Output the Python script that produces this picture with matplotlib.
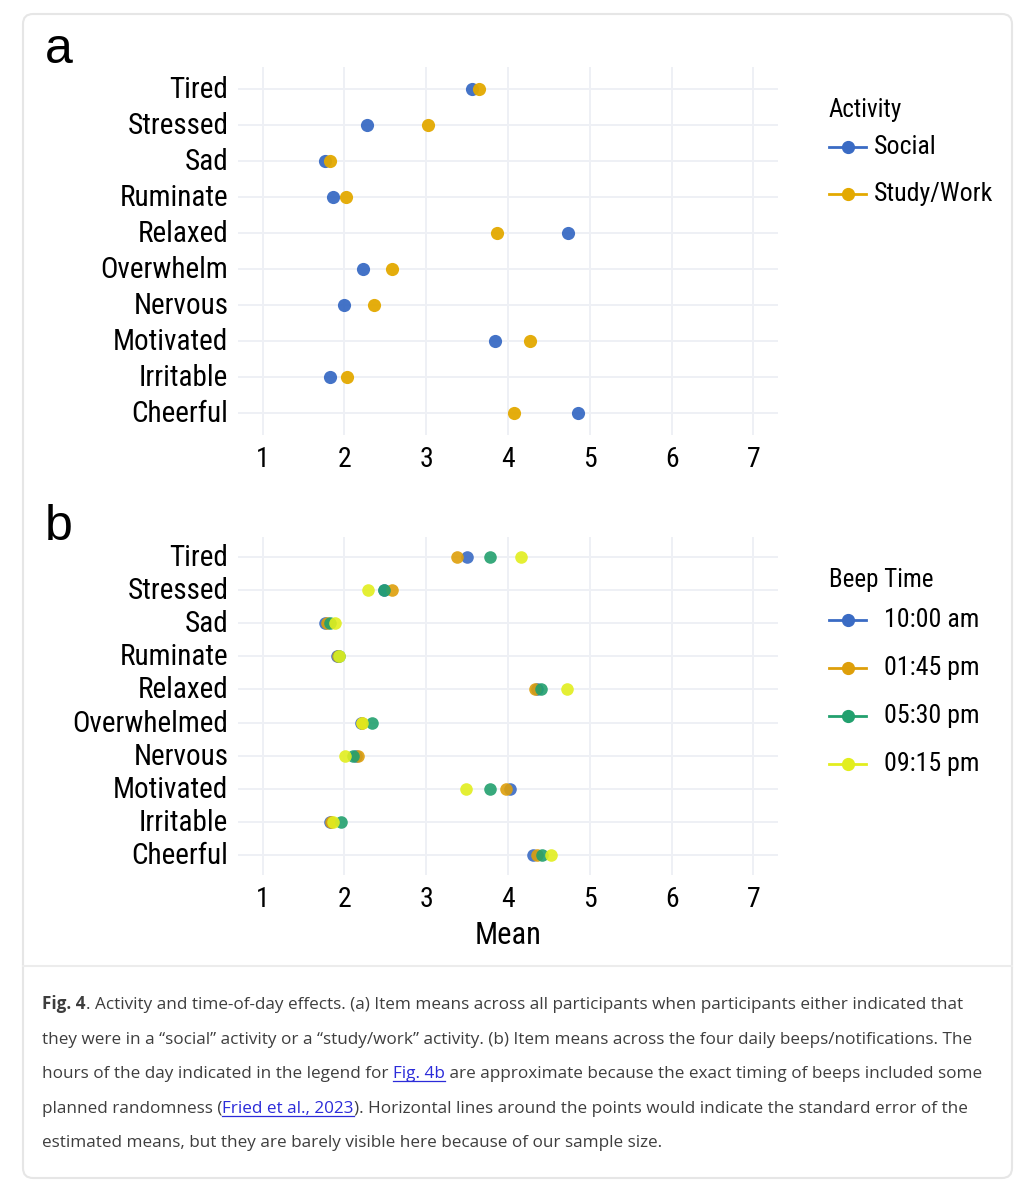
import matplotlib
matplotlib.use("Agg")
import matplotlib.pyplot as plt
import matplotlib.transforms as mtransforms
from matplotlib import font_manager
from matplotlib.lines import Line2D
from matplotlib.patches import FancyBboxPatch

# item labels, top to bottom
items_a = ["Tired", "Stressed", "Sad", "Ruminate", "Relaxed",
           "Overwhelm", "Nervous", "Motivated", "Irritable", "Cheerful"]
items_b = ["Tired", "Stressed", "Sad", "Ruminate", "Relaxed",
           "Overwhelmed", "Nervous", "Motivated", "Irritable", "Cheerful"]

# panel a: means by activity
social = [3.56, 2.28, 1.76, 1.86, 4.73, 2.23, 2.00, 3.84, 1.83, 4.85]
study_work = [3.65, 3.02, 1.82, 2.02, 3.86, 2.58, 2.36, 4.27, 2.03, 4.07]

# panel b: means by beep time
beep_1000 = [3.50, 2.48, 1.76, 1.91, 4.36, 2.20, 2.14, 4.03, 1.82, 4.31]
beep_1345 = [3.38, 2.58, 1.79, 1.92, 4.33, 2.21, 2.17, 3.98, 1.84, 4.36]
beep_1730 = [3.78, 2.49, 1.82, 1.93, 4.40, 2.34, 2.10, 3.78, 1.96, 4.41]
beep_2115 = [4.16, 2.29, 1.89, 1.94, 4.72, 2.22, 2.01, 3.49, 1.86, 4.53]

activity_labels = ["Social", "Study/Work"]
beep_labels = ["10:00 am", "01:45 pm", "05:30 pm", "09:15 pm"]
x_ticks = [1, 2, 3, 4, 5, 6, 7]

COL_BLUE = "#3A6BC4"
COL_GOLD = "#E3A900"
COL_ORANGE = "#DE9F0A"
COL_GREEN = "#22A06E"
COL_LIME = "#E2EE1E"
GRID = "#EEF0F5"

W, H = 1032, 1200
DPI = 100

# pick a condensed sans if one is installed
fonts = font_manager.fontManager.ttflist
names = {f.name for f in fonts}
if "Roboto Condensed" in names:
    COND = dict(family=["Roboto Condensed", "DejaVu Sans"])
elif "Liberation Sans Narrow" in names:
    COND = dict(family=["Liberation Sans Narrow", "DejaVu Sans"])
else:
    COND = dict(family=["DejaVu Sans"], stretch="condensed")
CAP_FONT = "Open Sans" if "Open Sans" in names else "DejaVu Sans"


def px_rect(x0, y0, x1, y1):
    """pixel box (top-left origin) -> figure fraction rect"""
    return [x0 / W, 1 - y1 / H, (x1 - x0) / W, (y1 - y0) / H]


def fx(x):
    return x / W


def fy(y):
    return 1 - y / H


def style_axes(fig, ax, labels):
    n = len(labels)
    ax.set_facecolor("none")
    ax.set_xlim(0.7, 7.3)
    ax.set_ylim(n - 1 + 0.6, -0.6)
    ax.set_yticks(range(n))
    ax.set_yticklabels(labels, fontsize=21, **COND)
    ax.set_xticks(x_ticks)
    ax.set_xticklabels([str(t) for t in x_ticks], fontsize=20, **COND)
    ax.tick_params(length=0)
    ax.tick_params(axis="y", pad=7)
    ax.tick_params(axis="x", pad=8)
    # nudge item labels up a little
    shift = mtransforms.ScaledTranslation(0, 2 / DPI, fig.dpi_scale_trans)
    for lab in ax.get_yticklabels():
        lab.set_transform(lab.get_transform() + shift)
    for s in ax.spines.values():
        s.set_visible(False)
    ax.grid(True, color=GRID, linewidth=1.4)
    ax.set_axisbelow(True)


def draw_legend(fig, title, labels, colors, title_y, item_ys, text_x):
    fig.text(fx(829), fy(title_y), title, fontsize=18, va="center", ha="left", **COND)
    for lab, col, y in zip(labels, colors, item_ys):
        fig.add_artist(Line2D([fx(829), fx(866)], [fy(y), fy(y)], transform=fig.transFigure,
                              color=col, linewidth=2))
        fig.add_artist(Line2D([fx(847.5)], [fy(y)], transform=fig.transFigure, color=col,
                              marker="o", markersize=8.5, linewidth=0))
        fig.text(fx(text_x), fy(y), lab, fontsize=18.6, va="center", ha="left", **COND)


fig = plt.figure(figsize=(W / DPI, H / DPI), dpi=DPI)
fig.patch.set_facecolor("white")

# card background
card = FancyBboxPatch((23 / DPI, (H - 1178) / DPI), (1012 - 23) / DPI, (1178 - 14) / DPI,
                      boxstyle="round,pad=0,rounding_size=0.1",
                      transform=fig.dpi_scale_trans, facecolor="white",
                      edgecolor="#E6E6E6", linewidth=1.5, zorder=-10)
fig.add_artist(card)
fig.add_artist(Line2D([fx(23), fx(1012)], [fy(966), fy(966)],
                      transform=fig.transFigure, color="#ECECEC", linewidth=1.5, zorder=-9))

# panel a
ax_a = fig.add_axes(px_rect(238, 67, 778, 435))
style_axes(fig, ax_a, items_a)
ya = list(range(len(items_a)))
ax_a.scatter(social, ya, s=90, color=COL_BLUE, alpha=0.95, linewidths=0, zorder=3)
ax_a.scatter(study_work, ya, s=90, color=COL_GOLD, alpha=0.95, linewidths=0, zorder=3)
draw_legend(fig, "Activity", activity_labels, [COL_BLUE, COL_GOLD], 110, [147, 194], 874)

# panel b
ax_b = fig.add_axes(px_rect(238, 537, 778, 875))
style_axes(fig, ax_b, items_b)
yb = list(range(len(items_b)))
beep_cols = [COL_BLUE, COL_ORANGE, COL_GREEN, COL_LIME]
for vals, col in zip([beep_1000, beep_1345, beep_1730, beep_2115], beep_cols):
    ax_b.scatter(vals, yb, s=82, color=col, alpha=0.9, linewidths=0, zorder=3)
ax_b.set_xlabel("Mean", fontsize=22, labelpad=6, **COND)
draw_legend(fig, "Beep Time", beep_labels, beep_cols, 580, [620, 668, 716, 764], 884)

# panel letters
fig.text(fx(45), fy(50), "a", fontsize=36, family="Liberation Sans", va="center", ha="left")
fig.text(fx(45), fy(527), "b", fontsize=36, family="Liberation Sans", va="center", ha="left")

# caption, laid out piece by piece
LINK = "#2B2BD9"
TXT = "#3E3E3E"
caption = [
    [("Fig. 4", "b"), (". Activity and time-of-day effects. (a) Item means across all participants when participants either indicated that", "n")],
    [("they were in a \u201csocial\u201d activity or a \u201cstudy/work\u201d activity. (b) Item means across the four daily beeps/notifications. The", "n")],
    [("hours of the day indicated in the legend for ", "n"), ("Fig. 4b", "l"),
     (" are approximate because the exact timing of beeps included some", "n")],
    [("planned randomness (", "n"), ("Fried et al., 2023", "l"),
     ("). Horizontal lines around the points would indicate the standard error of the", "n")],
    [("estimated means, but they are barely visible here because of our sample size.", "n")],
]
line_y = [1003, 1038, 1072, 1107, 1141]

renderer = fig.canvas.get_renderer()
for pieces, yc in zip(caption, line_y):
    x = 42
    base = yc + 6
    for txt, kind in pieces:
        t = fig.text(fx(x), fy(base), txt, fontsize=12.3, family=CAP_FONT,
                     fontweight="bold" if kind == "b" else "normal",
                     color=LINK if kind == "l" else TXT, va="baseline", ha="left")
        bb = t.get_window_extent(renderer)
        if kind == "l":
            fig.add_artist(Line2D([fx(x), fx(x + bb.width)], [fy(base + 3), fy(base + 3)],
                                  transform=fig.transFigure, color=LINK, linewidth=0.9))
        x += bb.width

fig.savefig("out.png", dpi=DPI)
